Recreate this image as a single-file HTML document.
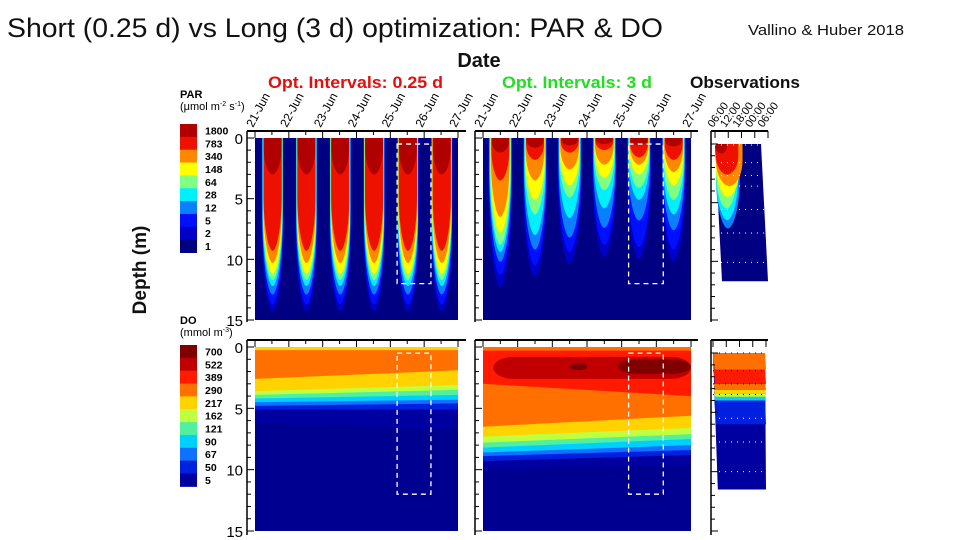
<!DOCTYPE html>
<html><head><meta charset="utf-8">
<style>
html,body{margin:0;padding:0;background:#fff;}
svg{display:block;font-family:"Liberation Sans",Arial,sans-serif;}
</style></head>
<body>
<svg id="chart" width="960" height="540" viewBox="0 0 960 540">
<text x="7" y="37" font-size="27" fill="#111" textLength="656" lengthAdjust="spacingAndGlyphs">Short (0.25 d) vs Long (3 d) optimization: PAR &amp; DO</text>
<text x="748" y="35" font-size="15" fill="#111" textLength="156" lengthAdjust="spacingAndGlyphs">Vallino &amp; Huber 2018</text>
<text x="479" y="67" font-size="20" font-weight="bold" text-anchor="middle" fill="#111">Date</text>
<text x="268" y="88" font-size="17" font-weight="bold" fill="#e01010" textLength="175" lengthAdjust="spacingAndGlyphs">Opt. Intervals: 0.25 d</text>
<text x="502" y="88" font-size="17" font-weight="bold" fill="#22dd22" textLength="150" lengthAdjust="spacingAndGlyphs">Opt. Intervals: 3 d</text>
<text x="690" y="88" font-size="17" font-weight="bold" fill="#111" textLength="110" lengthAdjust="spacingAndGlyphs">Observations</text>
<text transform="translate(146,270) rotate(-90)" font-size="19" font-weight="bold" text-anchor="middle" fill="#111">Depth (m)</text>
<g id="layer"></g>
</svg>
<script>
// ---------- data ----------
const days = ['21-Jun','22-Jun','23-Jun','24-Jun','25-Jun','26-Jun','27-Jun'];
const obsTimes = ['06:00','12:00','18:00','00:00','06:00'];
const depthTicks = [0,5,10,15];
const parLevels = ['1','2','5','12','28','64','148','340','783','1800'];
const parColors = ['#000083','#0000c8','#0010ff','#0a80ff','#00f0ff','#80ff80','#ffff00','#ff8800','#ee1100','#b00000'];
const doLevels = ['700','522','389','290','217','162','121','90','67','50','5'];
const doColors = ['#800000','#c00000','#ff1a00','#ff7000','#ffd200','#c0ff40','#50f0a0','#00d0ff','#1070ff','#0020e0','#0000a0'];
// PAR short: penetration depth (m) of levels 2..1800 (each day)
const parShortDepths = [14.3,13.7,12.9,12.2,11.7,11.2,10.3,9.3,3.0];
// PAR long: per day penetration depth of levels 2..1800
const parLongDepths = [
 [12.3,11.3,10.2,9.4,8.8,7.8,6.5,3.5,1.2],
 [11.5,10.5,9.2,8.0,6.3,5.1,3.5,1.8,0.8],
 [10.4,9.4,8.2,6.6,4.9,3.9,2.6,1.2,0.6],
 [9.8,8.8,7.4,5.8,4.3,3.3,2.2,1.0,0.5],
 [10.0,9.0,6.8,5.1,4.1,3.0,2.2,1.6,0.6],
 [10.2,9.2,7.6,6.3,5.1,3.9,2.8,1.8,0.7]
];
// DO short: band colour index + bottom depth left/right (drawn deep to shallow)
const doShortBands = [10,9,8,7,6,5,4,3,4];
const doShortLeft  = [6.2,5.1,4.8,4.5,4.2,3.9,3.6,2.6,0.25];
const doShortRight = [6.8,5.1,4.6,4.3,3.9,3.5,3.1,1.9,0.25];
const doLongBands = [10,9,8,7,6,5,4,3,2,3];
const doLongLeft  = [10.0,9.3,8.9,8.6,8.2,7.8,7.3,6.5,3.0,0.3];
const doLongRight = [9.6,8.8,8.4,8.0,7.5,7.1,6.6,5.6,4.0,0.3];
// dark red blobs in long DO: [startDay,endDay,topDepth,bottomDepth,colourIdx]
const doLongBlobs = [[0.3,6.0,0.8,2.6,1],[3.9,6.0,1.0,2.2,0],[2.5,3.0,1.3,1.9,0]];
// observations PAR: [colourIdx, bottomDepth, widthFrac]
const obsPar = [[3,7.2,0.45],[4,6.5,0.42],[5,5.5,0.4],[6,4.5,0.45],[7,3.6,0.5],[8,2.6,0.42],[9,0.8,0.2]];
// observations DO bands: [colourIdx, topDepth, bottomDepth]
const obsDo = [[10,0,11.5],[9,4.0,6.0],[7,3.7,4.0],[5,3.4,3.7],[4,3.1,3.4],[3,2.6,3.1],[2,1.4,2.6],[3,0,1.4]];
const obsDepthLines = [0,1.5,2.6,3.5,5.5,7.5,10,12];

// ---------- helpers ----------
const NS='http://www.w3.org/2000/svg';
const layer=document.getElementById('layer');
function mk(tag,attrs,parent){const e=document.createElementNS(NS,tag);for(const k in attrs)e.setAttribute(k,attrs[k]);(parent||layer).appendChild(e);return e;}
function axis(x0,x1,y0,y1,n){return {x:d=>x0+d*(x1-x0)/n,y:z=>y0+z*(y1-y0)/15,x0,x1,y0,y1};}

const pA=axis(255,458,138,320,6), pB=axis(483,691,138,320,6), pC=axis(715,768,144,320,4);
const dA=axis(255,458,347,531,6), dB=axis(483,691,347,531,6), dC=axis(713,766,353,531,4);

function frame(ax,fx,fy,ylen,labels,rightEnd,n,isTime){
  const g=mk('g',{});
  
  
  mk('line',{x1:fx,y1:fy,x2:rightEnd,y2:fy,stroke:'#000','stroke-width':2},g);
  mk('line',{x1:fx,y1:fy,x2:fx,y2:fy+ylen,stroke:'#000','stroke-width':1.5},g);
  for(let z=0;z<=15;z++){const y=ax.y(z);mk('line',{x1:fx,y1:y,x2:fx+(z%5?4:7),y2:y,stroke:'#000','stroke-width':1},g);}
  const step=isTime?1:0.5;
  for(let d=0;d<=n;d+=step){const x=ax.x(d);mk('line',{x1:x,y1:fy,x2:x,y2:fy+(d%1?4:7),stroke:'#000','stroke-width':1},g);}
  if(labels){
    depthTicks.forEach(z=>{const t=mk('text',{x:fx-4,y:ax.y(z)+6,'font-size':15,'text-anchor':'end',fill:'#000'},g);t.textContent=z;
      
      });
  }
}
function dateLabels(ax,fy,list,fs){
  list.forEach((s,i)=>{const x=ax.x(i);const t=mk('text',{transform:`translate(${x-2},${fy-3}) rotate(-62)`,'font-size':fs,fill:'#000'});t.textContent=s;
    
    });
}
function bulb(ax,cx,w,D,color,straight){
  const y0=ax.y(0), yD=ax.y(D), xl=cx-w/2, xr=cx+w/2;
  const ys=y0+(yD-y0)*straight;
  const ym=ys+(yD-ys)*0.6;
  const p=`M${xl},${y0} L${xl},${ys} C${xl},${ym} ${cx-w*0.22},${yD} ${cx},${yD} C${cx+w*0.22},${yD} ${xr},${ym} ${xr},${ys} L${xr},${y0} Z`;
  const e=mk('path',{d:p,fill:color});
  
  
}
function bg(ax,color,name){const r=mk('rect',{x:ax.x0,y:ax.y0,width:ax.x1-ax.x0,height:ax.y1-ax.y0,fill:color});
  
  }
function dashRect(x0,x1,y0,y1){const r=mk('rect',{x:x0,y:y0,width:x1-x0,height:y1-y0,fill:'none',stroke:'#fff','stroke-width':1.3,'stroke-dasharray':'5,4'});
  
  }

// ---------- PAR short ----------
bg(pA,parColors[0],'par-short-plot');
for(let d=0;d<6;d++){
  const cx=pA.x(d+0.52), dw=pA.x(1)-pA.x(0);
  parShortDepths.forEach((D,k)=>bulb(pA,cx,dw*0.64-k*0.5,D,parColors[k+1],k===8?0.3:0.5));
}
dashRect(pA.x(4.2),pA.x(5.2),pA.y(0.5),pA.y(12));
// ---------- PAR long ----------
bg(pB,parColors[0],'par-long-plot');
for(let d=0;d<6;d++){
  const cx=pB.x(d+0.5), dw=pB.x(1)-pB.x(0);
  parLongDepths[d].forEach((D,k)=>bulb(pB,cx,dw*0.7-k*0.9,D,parColors[k+1],0.25));
}
dashRect(pB.x(4.2),pB.x(5.2),pB.y(0.5),pB.y(12));
// ---------- PAR obs ----------
{const r=mk('polygon',{points:`715,${pC.y(0)} 761,${pC.y(0)} 768,${pC.y(11.7)} 722,${pC.y(11.7)}`,fill:parColors[0]});
 
 }
obsPar.forEach(([c,D,wf])=>{const w=53*wf;bulb(pC,716+w/2,w,D,parColors[c],0.4);});
obsDepthLines.slice(0,7).forEach(z=>{mk('line',{x1:715,y1:pC.y(z)+1,x2:768,y2:pC.y(z)+1,stroke:'#fff','stroke-width':1,'stroke-dasharray':'1,5'});});

// ---------- DO ----------
function bands(ax,idx,L,R,name){
  bg(ax,'#000090',name);
  idx.forEach((c,i)=>{const p=mk('polygon',{points:`${ax.x0},${ax.y(0)} ${ax.x1},${ax.y(0)} ${ax.x1},${ax.y(R[i])} ${ax.x0},${ax.y(L[i])}`,fill:doColors[c]});
    
    });
}
bands(dA,doShortBands,doShortLeft,doShortRight,'do-short-plot');
dashRect(dA.x(4.2),dA.x(5.2),dA.y(0.5),dA.y(12));
bands(dB,doLongBands,doLongLeft,doLongRight,'do-long-plot');
doLongBlobs.forEach(([a,b,t,bt,c])=>{const x0=dB.x(a),x1=dB.x(b),y0=dB.y(t),y1=dB.y(bt);
  const e=mk('rect',{x:x0,y:y0,width:x1-x0,height:y1-y0,rx:Math.min(20,(x1-x0)/2),ry:(y1-y0)/2,fill:doColors[c]});
  
  });
dashRect(dB.x(4.2),dB.x(5.2),dB.y(0.5),dB.y(12));
obsDo.forEach(([c,t,b])=>{const e=mk('polygon',{points:`${713+ (t/12)*4},${dC.y(t)} ${765},${dC.y(t)} ${766},${dC.y(b)} ${714+(b/12)*4},${dC.y(b)}`,fill:doColors[c]});
  
  });
obsDepthLines.forEach(z=>{mk('line',{x1:713,y1:dC.y(z),x2:766,y2:dC.y(z),stroke:z<5?'#000':'#fff','stroke-width':1,'stroke-dasharray':'1,5'});});

// ---------- frames ----------
frame(pA,247,131,191,true,466,6,false);
frame(pB,475,131,191,false,698,6,false);
frame(pC,711,131,191,false,768,4,true);
frame(dA,247,340,195,true,466,6,false);
frame(dB,475,340,195,false,698,6,false);
frame(dC,711,340,195,false,768,4,true);
dateLabels(pA,131,days,12);
dateLabels(pB,131,days,12);
obsTimes.forEach((s,i)=>{const x=715+i*12.5;const t=mk('text',{transform:`translate(${x-2},128) rotate(-55)`,'font-size':11,fill:'#000'});t.textContent=s;
  
  });

// ---------- colorbars ----------
function colorbar(x,y0,labels,colors,title1,title2,ty){
  const g=mk('g',{});
  
  
  const h=12.85;
  labels.forEach((s,i)=>{
    const yy=y0+i*h;
    mk('rect',{x:x,y:yy,width:17,height:h+0.5,fill:colors[labels.length-1-i]},g);
    const t=mk('text',{x:x+25,y:yy+h/2+4,'font-size':10.5,'font-weight':'bold',fill:'#000'},g);t.textContent=s;
  });
  const t1=mk('text',{x:x,y:ty,'font-size':11,'font-weight':'bold',fill:'#000'},g);t1.textContent=title1;
  const t2=mk('text',{x:x,y:ty+12,'font-size':11,fill:'#000'},g);t2.innerHTML=title2;
}
colorbar(180,124,parLevels.slice().reverse(),parColors,'PAR','(μmol m<tspan font-size="7" dy="-4">-2</tspan><tspan dy="4"> s</tspan><tspan font-size="7" dy="-4">-1</tspan><tspan dy="4">)</tspan>',98);
colorbar(180,345,doLevels,doColors.slice().reverse(),'DO','(mmol m<tspan font-size="7" dy="-4">-3</tspan><tspan dy="4">)</tspan>',324);
</script>
</body></html>
